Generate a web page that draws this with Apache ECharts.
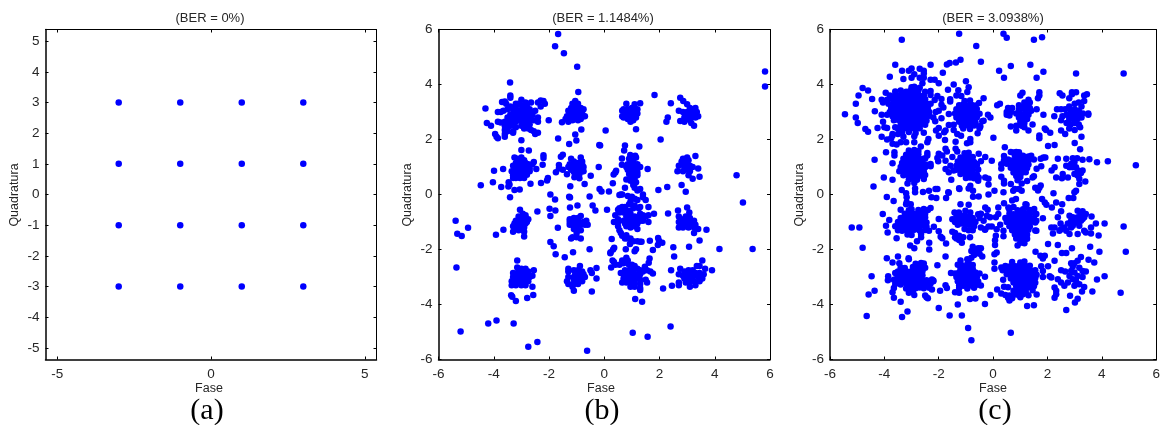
<!DOCTYPE html>
<html>
<head>
<meta charset="utf-8">
<style>html,body{margin:0;padding:0;background:#fff}#chart{width:1163px;height:425px}</style>
<script src="https://cdn.jsdelivr.net/npm/echarts@6/dist/echarts.min.js"></script>
</head>
<body>
<div id="chart"></div>
<script>
var titles = ['(BER = 0%)', '(BER = 1.1484%)', '(BER = 3.0938%)'];
var captions = ['(a)', '(b)', '(c)'];
var ticksAx = [-5, 0, 5];
var ticksAy = [-5, -4, -3, -2, -1, 0, 1, 2, 3, 4, 5];
var ticksB = [-6, -4, -2, 0, 2, 4, 6];

// panel a: ideal constellation
var dataA = [-3,3,-1,3,1,3,3,3,-3,1,-1,1,1,1,3,1,-3,-1,-1,-1,1,-1,3,-1,-3,-3,-1,-3,1,-3,3,-3];

// panel b, read by eye, flat x,y lists by region
var bTop = [-1.67,5.84,-1.78,5.39,-1.46,5.14,-.98,4.65,5.82,4.47,5.82,3.93,-3.41,4.07,-.94,3.73,1.82,3.62,2.75,3.52,2.41,3.32,2.86,3.4,
  -2.01,2.7,-1.53,2.63,-.83,2.36,-1.05,2.18,-1.01,1.96,-1.67,2.04,-1.27,1.84,-.18,1.8,-.15,1.78,.05,2.33,2.04,2];
var b1 = [-3.4,3.6,-3.4,3.52,-3.7,3.36,-3.6,3.38,-3.55,3.3,-3.2,3.3,-3,3.45,-2.85,3.35,-2.65,3.35,-2.4,3.35,-2.3,3.42,-2.2,3.4,-2.15,3.3,-2.3,3.2,-4.3,3.13,-3.85,3,-3.75,3,-3.65,3.05,-3.5,3.1,-3.4,3.2,-3.3,3.1,-3.2,3.2,-3.1,3.3,-3,3.25,-2.9,3.2,-2.8,3.2,-2.7,3.1,-2.6,3,-2.5,3.05,-3.4,2.9,-3.3,2.95,-3.2,3,-3.1,3.05,-3,3.05,-2.9,3,-2.8,3,-2.7,2.9,-2.6,2.9,-3.5,2.8,-3.35,2.75,-3.2,2.8,-3.1,2.85,-3,2.9,-2.9,2.85,-2.8,2.8,-2.7,2.75,-2.55,2.7,-2.4,2.8,-2.4,2.65,-3.85,2.65,-3.75,2.62,-3.6,2.65,-3.5,2.65,-3.3,2.6,-3.2,2.65,-3.05,2.7,-2.95,2.65,-2.85,2.6,-2.7,2.55,-4.25,2.6,-4.1,2.5,-3.6,2.5,-3.5,2.45,-3.4,2.5,-3.2,2.45,-3,2.5,-2.85,2.45,-2.75,2.4,-2.65,2.35,-2.9,2.4,-3.6,2.35,-3.6,2.2,-3.5,2.3,-3.3,2.3,-3.3,2.25,-3.95,2.2,-3.9,2.1,-3.85,2.05,-3.6,2.1,-2.5,2.2,-2.4,2.25,-2.55,2.3,-3,1.97,
  -1.05,3.4,-.95,3.3,-1.15,3.3,-1.2,3.15,-1,3.2,-.85,3.15,-.75,3.1,-1.3,3.05,-1.1,3.05,-1,3.05,-.9,3,-.8,2.95,-1.35,2.85,-1.25,2.9,-1.15,2.95,-1,2.9,-.9,2.85,-.75,2.85,-.7,2.85,-1.4,2.75,-1.2,2.8,-1.05,2.75,-.95,2.7,-1,2.8,-1.3,2.65,-1.15,2.7,-.85,2.75];
var b2 = [.8,3.3,1.1,3.28,1.3,3.32,.7,3.1,.85,3.1,1,3.15,1.2,3.1,1.15,3,.65,3.05,.75,3,.9,3,1.05,2.95,1.2,2.95,.65,2.85,.8,2.85,.95,2.85,1.1,2.85,.7,2.8,.85,2.75,1,2.75,1.05,2.7,1.15,2.8,.95,2.65,1.15,2.37,
  3,3.28,3.2,3.1,3.3,3.15,3.1,3.15,2.7,3.05,2.85,3,3,3,3.2,3,3.35,3,3.4,2.85,2.95,2.9,3.1,2.9,3.2,2.85,3.3,2.8,2.75,2.67,2.9,2.8,3,2.8,3.1,2.7,3.15,2.6,3.25,2.5,2.9,2.65,2.3,2.8,2.25,2.65];
var b3 = [-3,1.62,-2.73,1.6,-3.25,1.35,-2.2,1.43,-2.2,1.33,-2.55,1.18,-2.23,1.08,-2.6,1.1,-2.46,.93,-3.66,.93,-3.99,.86,-4.03,.45,-4.47,.34,-3.73,.27,-3.46,.45,-3.43,.36,-3.47,.29,-3.25,.16,-3.06,.18,-3.41,-.1,-2.67,.39,-2.29,.42,-2.07,.51,-2.04,.6,
  -3.15,1.3,-3,1.35,-2.9,1.25,-3.2,1.15,-3.1,1.2,-3,1.15,-2.85,1.15,-2.75,1.1,-3.3,1.05,-3.2,1,-3.05,1.05,-2.95,1,-2.8,1,-2.7,.95,-3.35,.85,-3.2,.85,-3.05,.9,-2.95,.85,-2.8,.85,-2.7,.85,-3.3,.7,-3.15,.7,-3,.75,-2.9,.7,-2.8,.72,-3.2,.6,-3.05,.6,-2.9,.6,-3.3,.6,
  -1.2,1.3,-1.1,1.2,-.85,1.35,-1.25,1.1,-1.1,1.1,-.95,1.15,-.8,1.2,-.8,1.1,-1.3,1,-1.15,1,-1,1,-.85,1,-.75,1,-1.2,.9,-1.05,.9,-.9,.9,-.8,.85,-.75,.85,-1.1,.82,-1,.8,-.9,.75,
  -1.5,1.45,-1.57,1.37,-1.64,1.07,-1.64,.95,-1.75,.81,-1.5,.9,-1.35,.74,-1.08,.63,-.9,.59,-1.23,.3,-.71,.38,-.49,.68,-.2,1];
var b4 = [.75,1.78,.72,1.6,1.27,1.75,.64,1.31,.94,1.44,1.12,1.41,.64,1.08,1.57,.93,.4,.8,.34,.73,.43,.86,.31,.41,.17,.11,-.17,.2,-.1,.11,
  .9,1.3,1.05,1.25,1.15,1.35,.85,1.1,1,1.15,1.1,1.1,1.2,1.1,.8,1,.95,1,1.05,1,1.2,.95,1.3,1,.85,.9,1,.88,1.1,.85,1.2,.8,.9,.75,1.05,.75,1.2,.7,1,.62,1.1,.6,.8,.55,.95,.5,1.15,.45,1.05,.35,1.1,.25,1.2,.15,1.3,.2,.75,.25,.6,0,.55,-.02,.65,0,.85,-.05,1,-.08,1.1,-.15,1.2,-.2,1.4,0,1.4,-.1,1.5,-.2,1.6,-.45,1.3,-.45,1.25,-.5,1.1,-.4,.95,-.25,.9,-.35,1.05,-.5,.75,-.45,.65,-.45,.55,-.5,.5,-.55,.4,-.75,.55,-.65,.35,-1,
  2.85,1.3,3,1.35,3.3,1.4,2.8,1.2,2.95,1.2,3.05,1.25,2.7,1.05,2.85,1.1,3,1.1,3.1,1.05,3.2,1,3.4,.95,2.9,1,3,.95,2.85,.85,2.65,.85,3,.9,3.1,.85,3.05,.7,3.2,.57,3.45,.65,2.8,.35,2.95,.1,2.28,.27,1.96,.16,4.79,.7,5.02,-.29];
var b5 = [-3.05,-.55,-2.95,-.7,-2.85,-.75,-3.1,-.8,-3,-.85,-2.85,-.85,-2.75,-.9,-3.2,-.95,-3.05,-.95,-2.95,-.95,-2.8,-1,-3.25,-1.05,-3.1,-1.1,-2.95,-1.1,-2.85,-1.05,-3.3,-1.15,-3.2,-1.2,-3.05,-1.2,-2.9,-1.2,-3.3,-1.35,-3.1,-1.3,-2.9,-1.35,-2.9,-1.53,-5.38,-.95,-5.32,-1.43,-5.16,-1.51,-4.93,-1.21,-3.92,-1.46,-3.65,-1.28,-2.42,-.62,
  -1.25,-.9,-1.1,-.85,-.95,-.85,-.85,-.78,-.65,-.95,-1.25,-1,-1.1,-1,-1,-1,-.9,-1,-.75,-1,-.6,-1.1,-1.25,-1.1,-1.15,-1.1,-1,-1.15,-.85,-1.1,-.7,-1.1,-1.1,-1.25,-.95,-1.3,-.85,-1.3,-1,-1.4,-1.15,-1.55,-1,-1.55,-1.2,-1.6,-.85,-1.6,
  -.97,-.4,-1.24,-.47,-1.27,-.08,-1.24,-.11,-1.95,0,-1.78,-.18,-1.98,-.52,-1.77,-.58,-1.95,-.78,-1.68,-1.21,-1.95,-1.73,-1.83,-1.88,-1.76,-2.17,-1.43,-2.28,-1.13,-2.1,-.53,-1.99,-.53,-.07,-.42,-.4,-.32,-.58,.1,-.55];
var b6 = [.95,-.7,1.1,-.8,.8,-.8,.95,-.85,1.1,-.85,1.25,-.85,.7,-.95,.85,-.95,1,-.95,1.15,-.95,1.3,-.95,.75,-1.05,.9,-1.05,1.05,-1.1,1.2,-1.05,1.4,-.95,.8,-1.15,.95,-1.2,1.1,-1.15,1.2,-1.25,.9,-.6,.85,-.6,.7,-.65,1.3,-.7,1.4,-.75,1.5,-.8,1.6,-.75,1.8,-.7,1.6,-1,
  .5,-.9,.5,-1,.5,-1.15,.55,-1.3,.6,-1.4,.65,-1.5,.75,-1.6,.85,-1.6,.95,-1.6,1.05,-1.7,1.2,-1.7,1.3,-1.72,1.35,-1.72,1.65,-1.68,2.31,-.69,1.95,-1.58,1.94,-1.84,2.1,-1.75,1.98,-1.68,2.5,-1.92,1.76,-2.02,.27,-1.62,.36,-1.94,.32,-2,.23,-2.1,.22,-2.14,.78,-1.99,1.1,-2.06,1.15,-1.99,.93,-1.8,.8,-1.48,
  3,-.47,3.08,-.65,2.67,-.58,2.7,-.8,2.95,-.8,3.1,-.85,2.8,-.9,2.95,-.95,3.1,-.95,3.25,-.95,2.7,-1,2.85,-1.05,3,-1.05,3.15,-1.05,3.3,-1.1,2.7,-1.2,2.85,-1.2,3.05,-1.2,3.25,-1.2,3.4,-1.25,3.7,-1.28,3.25,-1.4,3.45,-1.67,3.07,-1.9];
var b7 = [-3.15,-2.4,-3.15,-2.65,-3,-2.7,-2.85,-2.7,-3.3,-2.85,-3.15,-2.85,-3,-2.85,-2.85,-2.85,-2.75,-2.8,-2.55,-2.75,-3.3,-3,-3.15,-3,-3,-3,-2.85,-3,-2.7,-3,-2.6,-2.95,-3.35,-3.15,-3.2,-3.15,-3.05,-3.15,-2.9,-3.15,-2.75,-3.15,-3.35,-3.3,-3.2,-3.3,-3,-3.3,-2.85,-3.3,-2.6,-3.35,-3.37,-3.66,-3.33,-3.72,-3.2,-3.87,-2.79,-3.76,-2.57,-3.65,-5.35,-2.65,-5.2,-4.98,-4.2,-4.69,-3.9,-4.58,-3.28,-4.69,-2.75,-5.54,-2.42,-5.36,-.62,-5.68,
  -.88,-2.6,-1.3,-2.7,-1.3,-2.8,-1.1,-2.75,-.95,-2.75,-.8,-2.8,-1.05,-2.9,-.9,-2.9,-.75,-2.9,-1.3,-3,-1.1,-3,-.95,-3,-.8,-3,-.7,-3,-1.35,-3.15,-1.1,-3.1,-.95,-3.1,-.8,-3.15,-1.3,-3.25,-1.1,-3.25,-.95,-3.25,-1.15,-3.35,-1.1,-3.5,-.5,-2.75,-.45,-2.85,-.28,-2.67,-.28,-3.05,-.45,-3.53];
var b8 = [.8,-2.3,.65,-2.4,.85,-2.4,.35,-2.45,.3,-2.4,.25,-2.65,.4,-2.55,.55,-2.55,.7,-2.5,.9,-2.55,1,-2.55,1.1,-2.6,.6,-2.85,.75,-2.75,.9,-2.75,1.05,-2.75,1.2,-2.7,1.3,-2.75,1.4,-2.8,1.55,-2.75,1.64,-2.33,1.61,-2.48,1.47,-2.63,1.67,-2.8,1.76,-2.87,.7,-2.9,.85,-2.9,1,-2.9,1.15,-2.9,1.3,-2.9,.7,-3.05,.85,-3.05,1,-3.05,1.15,-3.05,1.3,-3.1,.8,-3.2,.95,-3.2,1.1,-3.2,1.3,-3.25,.65,-3.2,.95,-3.35,1.1,-3.35,1.3,-3.4,1.3,-3.47,1.5,-3.1,1.55,-3.2,1.12,-3.8,1.37,-3.9,1.03,-5.03,1.57,-5.17,2.4,-4.8,2.13,-3.42,2.45,-3.32,2.42,-2.75,
  2.75,-2.7,2.9,-2.8,3.05,-2.75,3.2,-2.75,3.35,-2.6,3.45,-2.6,3.55,-2.4,3.65,-2.7,3.9,-2.75,2.7,-2.9,2.85,-2.95,3,-2.9,3.15,-2.9,3.3,-2.85,3.45,-2.85,3.6,-2.9,2.9,-3.05,3.05,-3.05,3.2,-3,3.4,-3,3.55,-3.05,2.7,-3.2,2.7,-3.3,2.95,-3.2,3.1,-3.15,3.25,-3.15,3.1,-3.35,3.3,-3.3,3.45,-3.15,4.17,-1.98,5.37,-1.98,2.53,-2.25];

// panel c, same idea
var cTop = [-3.36,5.63,-1.25,5.85,.38,5.85,.5,5.7,1.5,5.63,1.8,5.72,-.62,5.4,-.45,4.83,-1.37,4.8,-1.2,4.9,-1.7,4.73,-1.6,4.78,-2.3,4.72,-3.6,4.72,-3.35,4.5,-3.1,4.5,-3,4.58,-2.7,4.57,-2.55,4.5,-2.55,4.4,-2.9,4.37,-1.85,4.43,-3.8,4.28,-3.3,4.2,-3,4.25,-2.7,4.25,-2.55,4.25,-2.3,4.17,-2.15,4.17,-2,4.05,-2.6,4.05,-1.45,4,-1,4.12,-.9,3.9,-.95,3.73,-1.28,3.79,.22,4.5,.4,4.25,.65,4.67,1.37,4.72,1.6,4.25,1.85,4.46,3.05,4.4,4.8,4.4,
  -4.8,3.87,-4.6,3.78,-4.95,3.6,-5.05,3.3,-5.45,2.92,-5.05,2.8,-4.98,2.6,-4.7,2.38,-4.6,2.28,-4.45,3.47,-4.35,3.03,-4.25,2.42,-4.1,3.45,-4.05,3.35,-3.95,3.7,-3.9,2.9,-4.1,2.9,-4.05,2.65,-4,2.45,-3.9,2.42,-3.6,2.45,-3.7,2.2,-3.7,2.15,-4.1,2.1,-3.9,2,-3.75,2.05,-3.5,2.2];
var c1 = [-3,3.9,-2.9,3.92,-2.7,3.88,-3.6,3.75,-3.4,3.78,-3.2,3.74,-3.05,3.76,-2.9,3.73,-2.75,3.77,-2.5,3.74,-2.3,3.76,-3.8,3.6,-3.6,3.62,-3.45,3.58,-3.3,3.6,-3.15,3.63,-3,3.59,-2.85,3.61,-2.7,3.58,-2.55,3.6,-2.3,3.62,-2.05,3.58,-3.9,3.45,-3.7,3.47,-3.55,3.44,-3.4,3.46,-3.25,3.43,-3.1,3.46,-2.95,3.44,-2.8,3.47,-2.65,3.43,-2.5,3.46,-2.15,3.44,-3.85,3.3,-3.65,3.32,-3.5,3.29,-3.35,3.31,-3.2,3.28,-3.05,3.31,-2.9,3.29,-2.75,3.32,-2.6,3.28,-2.45,3.31,-2.3,3.3,-3.75,3.15,-3.6,3.17,-3.45,3.14,-3.3,3.16,-3.15,3.13,-3,3.16,-2.85,3.14,-2.7,3.17,-2.55,3.13,-2.4,3.16,-3.8,3,-3.65,3.02,-3.5,2.99,-3.35,3.01,-3.2,2.98,-3.05,3.01,-2.9,2.99,-2.75,3.02,-2.6,2.98,-2.45,3.01,-2.35,3,-3.7,2.85,-3.55,2.87,-3.4,2.84,-3.25,2.86,-3.1,2.83,-2.95,2.86,-2.8,2.84,-2.65,2.87,-2.5,2.83,-2.35,2.86,-3.65,2.7,-3.5,2.72,-3.35,2.69,-3.2,2.71,-3.05,2.68,-2.9,2.71,-2.75,2.69,-2.6,2.72,-2.45,2.68,-3.4,2.55,-3.25,2.57,-3.1,2.54,-2.95,2.56,-2.8,2.53,-2.65,2.56,-2.5,2.54,-3.5,2.4,-3.3,2.42,-3.15,2.39,-3,2.41,-2.85,2.38,-2.7,2.41,-3.35,2.25,-3.1,2.27,-2.85,2.24,-2.55,2.25,-3.3,2.1,-2.9,2.12,
  -1.05,3.4,-.85,3.42,-1.25,3.25,-1.1,3.27,-.95,3.24,-.8,3.26,-.65,3.24,-1.35,3.1,-1.2,3.12,-1.05,3.09,-.9,3.11,-.75,3.08,-.6,3.11,-1.4,2.95,-1.25,2.97,-1.1,2.94,-.95,2.96,-.8,2.93,-.65,2.96,-.5,2.94,-1.35,2.8,-1.2,2.82,-1.05,2.79,-.9,2.81,-.75,2.78,-.6,2.81,-1.25,2.65,-1.1,2.67,-.95,2.64,-.8,2.66,-.65,2.63,-.4,2.66,-1.15,2.5,-1,2.52,-.85,2.49,-.7,2.51,-.5,2.48,-1.1,2.4,-.85,2.38,-.5,2.41,
  -1.66,3.81,-1.9,3.47,-1.58,3.46,-1.58,3.38,-1.35,3.6,-1.17,3.58,-.35,3.5,-.52,3.33,-1.9,3.26,-2,3.05,-1.83,3.16,-2.11,3,-1.63,2.93,-2.2,2.8,-1.9,2.77,-2.13,2.66,-1.45,2.54,-1.63,2.53,-1.75,2.33,-2,2.42,-2.1,2.33,-1.8,2.26,-2,2.14,-1.77,1.98,-1.45,2.35,-1.32,2.2,-1.18,2.14,-1.38,1.92,-.96,1.86,-.84,1.9,-.57,2.23,-.47,2.47,-.84,2.02,-.19,2.9,-.1,2.8,-.35,2.68];
var c2 = [-2.38,2.02,-2.42,1.9,-2.66,1.75,-2.9,1.9,-3.2,1.9,-3.4,1.9,-3.7,1.85,-3.55,1.82,-3.94,1.54,-3.63,1.54,-3.63,1.42,-3.7,1.14,-4.36,1.26,-4.02,.62,-3.7,.54,-4.4,.29,-3.36,.16,-3.2,.05,-3.18,-.1,-3.91,-.09,-3.66,-.24,-3.18,-.28,-3.03,-.35,-2.87,.22,-2.87,.08,-2.58,.09,-2.36,.14,-2.27,-.1,-2.12,.2,-2.05,.2,-2.09,-.13,-1.65,.08,-1.63,.06,-1.73,-.13,-1.24,.2,-.9,.22,-.74,.14,-.53,-.07,-.74,-.08,-.17,0,.05,.14,
  -2.42,1.51,-2.42,1.42,-2.56,1.3,-2.3,1.11,-2.3,1.03,-2.44,1.08,-2.05,1.33,-2,1.48,-1.87,1.42,-1.75,1.66,-1.7,1.56,-2.02,1.21,-1.75,1.23,-1.38,1.66,-1.32,1.56,-1.5,1.36,-1.57,1.05,-1.75,.93,-1.63,.81,-1.45,.87,-1.54,.54,
  -3.1,1.6,-2.9,1.62,-2.75,1.58,-3.2,1.45,-3.05,1.47,-2.9,1.44,-2.75,1.46,-3.3,1.3,-3.15,1.32,-3,1.29,-2.85,1.31,-2.7,1.28,-2.5,1.31,-3.35,1.15,-3.2,1.17,-3.05,1.14,-2.9,1.16,-2.75,1.13,-2.6,1.16,-3.4,1,-3.25,1.02,-3.1,.99,-2.95,1.01,-2.8,.98,-2.65,1.01,-2.5,.99,-3.45,.85,-3.3,.87,-3.15,.84,-3,.86,-2.85,.83,-2.7,.86,-2.55,.84,-3.3,.7,-3.15,.72,-3,.69,-2.85,.71,-2.7,.68,-2.5,.71,-3.1,.55,-2.95,.57,-2.8,.54,-2.55,.56,-3.15,.4,-2.9,.42,
  -1.05,1.5,-.9,1.52,-1.2,1.35,-1.05,1.37,-.9,1.34,-.75,1.36,-1.3,1.2,-1.15,1.22,-1,1.19,-.85,1.21,-.7,1.18,-.45,1.21,-1.35,1.05,-1.2,1.07,-1.05,1.04,-.9,1.06,-.75,1.03,-.6,1.06,-1.35,.9,-1.2,.92,-1.05,.89,-.9,.91,-.75,.88,-.55,.91,-1.2,.75,-1.05,.77,-.9,.74,-.75,.76,-.6,.73,-1,.6,-.85,.62,-.7,.59,
  -.53,1.48,-.29,1.36,-.6,1.11,-.05,1.23,.01,2.06,-.53,.62,-.29,.62,-.17,.57,-.55,.5,-.17,.36,-.84,.32,-1.25,.23];
var c3 = [.65,1.55,.75,1.53,.85,1.55,.95,1.54,.4,1.4,.8,1.42,.95,1.39,1.1,1.41,1.3,1.38,1.4,1.41,.4,1.25,.55,1.27,.7,1.24,.85,1.26,1,1.23,1.15,1.26,1.3,1.24,1.5,1.27,1.85,1.35,.3,1.1,.5,1.12,.7,1.09,.85,1.11,1,1.08,1.15,1.11,1.3,1.09,.3,.95,.65,.97,.8,.94,.95,.96,1.1,.93,1.25,.96,1.6,.94,.75,.8,.9,.82,1.05,.79,1.2,.81,.3,.65,.85,.67,1,.64,1.5,.66,1.45,.62,.4,.5,.9,.52,1.25,.49,.43,1.72,.4,.4,.65,.38,1.05,.4,.8,.2,.95,.2,1.55,.25,1.7,.25,1.75,.33,.38,.08,1.05,.14,1.65,.15,1.77,1.03,1.92,1.35,1.75,1.3,2.02,1.76,2.26,1.8,
  2.38,1.3,2.69,1.3,2.93,1.32,3.09,1.32,3.29,1.26,3.54,1.28,3.82,1.17,4.22,1.21,5.25,1.06,2.26,.99,2.15,.87,2.69,1.05,2.87,1.11,2.99,1.17,2.81,.99,2.93,.99,3.05,.99,3.11,.87,3.29,.87,3.23,.78,2.99,.75,3.11,.69,3.17,.57,2.32,.62,2.56,.75,2.53,.59,2.75,.62,3.17,.38,3.39,.47,3.05,.14,2.99,.08,2.78,-.13,2.95,-.13,2.22,.05,1.8,-.16,1.9,-.29,1.96,-.37,2.32,-.29,2.54,-.35,2.16,-.47,2.5,-.61,2.38,-.83,1.83,-.86,
  3.11,-.59,3.29,-.61,3.41,-.71,3.23,-.71,3.35,-.83,3.11,-.83,2.93,-.83,2.87,-.95,2.81,-.77,3.23,-.95,3.05,-1.01,2.93,-1.14,2.87,-1.2,3.17,-1.14,3.29,-.89,3.62,-.8,3.78,-1.05,4.1,-1.05,4.8,-1.16,3.6,-1.2,3.35,-1.32,3.41,-1.38,3.6,-1.42,3.88,-1.49,3.11,-1.44,2.81,-1.44,2.69,-1.32,2.44,-1.32,2.5,-1.26,2.48,-1.05,2.75,-1.05,2.62,-1.2,2.26,-1.2,2.14,-1.2,2.2,-1.42,2.02,-1.8,2.38,-1.84,2.53,-2.13,2.69,-2.13,2.9,-1.95,3.57,-1.9,3.91,-2.08,4.88,-2.08,3.72,-2.47,3.51,-2.37,3.23,-2.27,1.56,-2.08,1.74,-2.23,1.9,-2.23,1.83,-2.33,2.26,-2.41,1.77,-2.61,2.02,-2.61,1.83,-2.78,1.83,-3,2.08,-2.97,2.14,-3.02,
  2.87,-2.5,2.99,-2.5,3.11,-2.41,2.93,-2.62,3.17,-2.66,3.29,-2.78,3.41,-2.8,2.87,-2.78,2.99,-2.84,2.5,-2.75,2.65,-2.8,3.11,-2.96,3.29,-3,2.81,-2.96,2.93,-3.08,2.38,-3.08,2.5,-3.2,2.62,-3.32,2.75,-3.2,3.05,-3.14,3.17,-3.26,2.99,-3.32,3.35,-3.36,3.27,-3.53,3.65,-3.53,3.82,-3.09,4.1,-2.97,4.69,-3.57,2.26,-3.38,2.32,-3.5,2.26,-3.75,2.32,-3.63,2.83,-3.68,3.11,-3.79,3.01,-3.93,2.69,-4.2];
var c4 = [.75,-.45,1.2,-.47,.6,-.55,.9,-.57,1.1,-.54,1.35,-.56,.6,-.7,.75,-.72,.9,-.69,1.05,-.71,1.2,-.68,1.35,-.71,1.55,-.69,.45,-.85,.6,-.87,.75,-.84,.9,-.86,1.05,-.83,1.2,-.86,1.35,-.84,1.5,-.87,.5,-1,.65,-1.02,.8,-.99,.95,-1.01,1.1,-.98,1.25,-1.01,1.4,-.99,1.55,-1.02,.6,-1.15,.75,-1.17,.9,-1.14,1.05,-1.16,1.2,-1.13,1.35,-1.16,.7,-1.3,.85,-1.32,1,-1.29,1.15,-1.31,1.3,-1.28,1.55,-1.31,.8,-1.45,.95,-1.47,1.1,-1.44,1.25,-1.46,.85,-1.6,1,-1.62,1.15,-1.59,1.25,-1.61,1,-1.75,1.15,-1.77,.9,-1.85,
  .19,-.47,.4,-.32,.56,-.47,.19,-.71,.7,-.22,.84,-.16,1.19,-.35,1.51,-.53,1.59,-.71,1.59,-.95,1.59,-1.32,1.23,-.37,.74,.14,.1,-.83,-.11,-.83,-.23,-.77,-.47,-.71,-.29,-.47,-.2,-.55,-.35,-.95,-.05,-1.16,-.17,-1.16,-.29,-1.26,.26,-1.1,.13,-1.26,.38,-1.32,.1,-1.5,.07,-1.66,.07,-1.84,.13,-2.11,.05,-2.17,.05,-2.47,.38,-1.52,
  -3.2,-.35,-3.4,-.55,-3.1,-.57,-3,-.54,-2.75,-.56,-2.55,-.53,-2.4,-.56,-3.25,-.7,-3.1,-.72,-2.95,-.69,-2.8,-.71,-2.65,-.68,-2.5,-.71,-3.4,-.85,-3.25,-.87,-3.1,-.84,-2.95,-.86,-2.8,-.83,-2.65,-.86,-2.5,-.84,-3.5,-1,-3.35,-1.02,-3.2,-.99,-3.05,-1.01,-2.9,-.98,-2.75,-1.01,-2.6,-.99,-2.45,-1.02,-3.6,-1.15,-3.4,-1.17,-3.25,-1.14,-3.1,-1.16,-2.95,-1.13,-2.8,-1.16,-2.65,-1.14,-2.45,-1.17,-3.5,-1.3,-3.35,-1.32,-3.2,-1.29,-3.05,-1.31,-2.9,-1.28,-2.7,-1.31,-2.5,-1.29,-3.15,-1.45,-3,-1.47,-2.65,-1.44,-2.65,-1.55,-2.8,-1.7,-3.05,-1.85,-2.9,-1.95,-2.35,-2,-2.35,-1.75,
  -4.06,-.71,-3.82,-.93,-3.94,-1.14,-3.88,-1.38,-3.55,-1.59,-2.3,-.49,-2,-.89,-2.18,-1.17,-2,-1.34,-1.93,-1.54,-1.87,-1.59,-2.36,-1.32,-1.73,-1.78,-5.2,-1.2,-4.92,-1.2,-4.8,-1.94,-3.91,-2.32,
  -1.2,-.35,-.9,-.37,-1.42,-.65,-1.26,-.65,-1.02,-.59,-.84,-.65,-1.5,-.9,-1.35,-.8,-1.2,-.8,-1.05,-.75,-.9,-.8,-.75,-.85,-1.4,-1,-1.25,-.95,-1.1,-.9,-.95,-.95,-.8,-1,-.65,-1,-1.3,-1.1,-1.15,-1.05,-1,-1.1,-.85,-1.1,-.7,-1.15,-1.05,-1.25,-.9,-1.3,-.75,-1.3,-.55,-.72,-.45,-.7,-.5,-.85,-.45,-1.2,-.3,-1.28,-1.5,-1.35,-1.4,-1.4,-1.4,-1.55,-1.35,-1.6,-1.25,-1.5,-1.25,-1.65,-1.1,-1.55,-1.15,-1.75,-.85,-1.55,-.7,-2,-.75,-1.9,-.8,-2.05,-.55,-1.95,-.45,-1.95,-.6,-2.1,-.5,-2.15,-.7,-2.2,-.8,-2.3,-.9,-2.4,-.95,-2.35,-.4,-2.25];
var c5 = [-3.1,-2.35,-3.45,-2.5,-2.85,-2.52,-2.65,-2.49,-2.55,-2.51,-3.4,-2.65,-3.25,-2.67,-2.95,-2.64,-2.8,-2.66,-2.65,-2.63,-2.5,-2.66,-3.5,-2.8,-3.35,-2.82,-3.2,-2.79,-3.05,-2.81,-2.9,-2.78,-2.75,-2.81,-2.6,-2.79,-3.5,-2.95,-3.35,-2.97,-3.2,-2.94,-3.05,-2.96,-2.9,-2.93,-2.75,-2.96,-2.6,-2.94,-3.65,-3.1,-3.4,-3.12,-3.25,-3.09,-3.1,-3.11,-2.95,-3.08,-2.8,-3.11,-2.65,-3.09,-2.45,-3.12,-2.25,-3.09,-2.2,-3.13,-3.6,-3.25,-3.4,-3.27,-3.2,-3.24,-3.05,-3.26,-2.9,-3.23,-2.75,-3.26,-2.6,-3.24,-2.45,-3.27,-2.3,-3.24,-3.65,-3.4,-3.2,-3.42,-3.05,-3.39,-2.85,-3.41,-2.7,-3.38,-2.55,-3.41,-2.35,-3.39,-3.7,-3.55,-3.1,-3.57,-2.95,-3.54,-2.9,-3.65,-2.5,-3.67,-3.65,-3.75,-2.4,-3.77,-2.45,-3.74,-3.4,-3.9,-3.15,-4.25,-3.35,-4.45,
  -4.47,-2.97,-4.58,-3.64,-4.36,-3.5,-4.65,-4.42,-3.7,-2.47,-3.5,-2.25,-3.11,-2.32,-3.86,-2.97,-3.87,-3.12,-3.57,-3.08,-3.6,-2.85,-2.2,-3.15,-2.25,-3.45,-2.05,-2.57,-1.75,-3.3,-1.7,-3.4,-1.95,-3.5,-2,-4.13,-1.6,-4.4,-1.15,-4.4,-.92,-4.85,-.8,-5.3,.65,-5.03,-1.75,-2.25,
  -1.2,-2.4,-1.3,-2.55,-1.15,-2.57,-.95,-2.54,-.75,-2.56,-1.2,-2.7,-1.05,-2.72,-.9,-2.69,-.75,-2.71,-1.55,-2.85,-1.4,-2.87,-1.25,-2.84,-1.1,-2.86,-.95,-2.83,-.8,-2.86,-.65,-2.84,-.5,-2.87,-1.35,-3,-1.2,-3.02,-1.05,-2.99,-.9,-3.01,-.75,-2.98,-.6,-3.01,-.3,-2.99,-1.3,-3.15,-1.15,-3.17,-1,-3.14,-.85,-3.16,-.7,-3.13,-.55,-3.16,-1.25,-3.3,-1.1,-3.32,-.95,-3.29,-.8,-3.31,-.6,-3.28,-.45,-3.31,-1.25,-3.4,-.95,-3.42,-.7,-3.39,-1.4,-3.55,-1.25,-3.57,-.85,-3.8,-.65,-3.78,-1.3,-4,-.3,-3.98,-.1,-3.65,
  .7,-2.45,1,-2.47,1.15,-2.44,.45,-2.6,.6,-2.62,.75,-2.59,.9,-2.61,1.05,-2.58,1.2,-2.61,1.35,-2.59,.35,-2.75,.5,-2.77,.65,-2.74,.8,-2.76,.95,-2.73,1.1,-2.76,1.25,-2.74,1.4,-2.77,1.55,-2.75,.5,-2.9,.65,-2.92,.8,-2.89,.95,-2.91,1.1,-2.88,1.25,-2.91,1.4,-2.89,1.6,-2.92,.65,-3.05,.8,-3.07,.95,-3.04,1.1,-3.06,1.25,-3.03,1.4,-3.06,1.55,-3.04,.75,-3.2,.9,-3.22,1.05,-3.19,1.2,-3.21,1.35,-3.18,1.55,-3.21,.4,-3.35,.55,-3.37,.85,-3.34,1,-3.36,1.15,-3.33,1.3,-3.36,1.5,-3.34,.75,-3.5,.9,-3.52,1.05,-3.49,1.2,-3.51,1.45,-3.48,.45,-3.65,.6,-3.67,.8,-3.64,.95,-3.66,1.1,-3.63,1.3,-3.66,1.6,-3.64,.55,-3.75,.7,-3.77,1,-3.74,.6,-3.85,1.25,-4.05,1.5,-4.03,.37,-3.1,.3,-2.65,.05,-2.7,.15,-3.45,.3,-3.6];
var c6 = [1.08,3.7,1,3.6,1.7,3.72,1.7,3.6,1.65,3.5,1.3,3.45,1.35,3.35,1.15,3.35,1.25,3.25,.95,3.25,.55,3.15,.7,3.15,1.1,3.15,1.35,3.15,1.6,3.1,.5,3,.65,3,.95,3.1,1.2,3.05,1.4,3.05,.5,2.9,.6,2.87,.85,2.95,1,2.95,1.15,2.9,1.3,2.9,1.85,2.9,.95,2.8,1.1,2.75,1.25,2.75,1,2.65,1.15,2.6,.65,2.47,.85,2.5,1.05,2.5,1.15,2.45,1.45,2.55,.85,2.33,1.3,2.33,1.7,2.15,1.7,2.05,1.9,2.4,1.95,2.35,2.1,2.25,.15,3.25,.25,3.3,
  2.45,3.68,2.55,3.6,2.9,3.72,3.05,3.72,2.9,3.65,3.45,3.65,3.35,3.6,2.8,3.5,3.35,3.4,3.15,3.35,3,3.3,2.35,3.1,2.5,3.1,2.65,3.1,2.8,3.2,3.25,3.2,2.85,3.05,3,3.1,3.15,3.05,3.5,2.9,3.5,2.95,2.25,2.85,2.55,2.85,2.7,2.9,2.85,2.9,3,2.9,3.15,2.9,3.3,2.95,2.5,2.7,2.8,2.75,2.95,2.75,3.1,2.75,3.25,2.8,2.7,2.6,2.85,2.55,3,2.6,3.15,2.55,2.5,2.33,2.65,2.2,2.8,2.4,3,2.35,3.2,2.45,3.25,2.1,3,1.87,3.2,1.65];

var pointsA = dataA;
var pointsB = [].concat(bTop, b1, b2, b3, b4, b5, b6, b7, b8);
var pointsC = [].concat(cTop, c1, c2, c3, c4, c5, c6);

function toPairs(flat) {
  var out = [];
  for (var i = 0; i < flat.length; i += 2) out.push([flat[i], flat[i + 1]]);
  return out;
}

var panels = [
  { left: 45.5, width: 331, min: -5.38, max: 5.38, xt: ticksAx, yt: ticksAy, pts: pointsA, size: 6.5, tx: 205, fx: 209, qx: 15, cx: 202 },
  { left: 438.5, width: 331.5, min: -6, max: 6, xt: ticksB, yt: ticksB, pts: pointsB, size: 6.5, tx: 598, fx: 601, qx: 408, cx: 597 },
  { left: 830, width: 329.5, min: -6, max: 6, xt: ticksB, yt: ticksB, pts: pointsC, size: 6.5, tx: 988, fx: 993, qx: 800, cx: 990 }
];

function makeAxis(type, p, idx, ticks, showLabel, pos) {
  var main = showLabel;
  return {
    type: 'value', gridIndex: idx, position: pos, min: p.min, max: p.max, scale: true,
    splitLine: { show: false },
    axisLine: { show: true, onZero: false, lineStyle: { color: '#000', width: main ? 1.5 : 1 } },
    axisTick: { show: true, inside: true, length: 3, customValues: ticks, lineStyle: { color: '#000', width: 1 } },
    axisLabel: { show: showLabel, customValues: ticks, margin: type === 'x' ? 8 : 6, fontSize: 13.5, fontFamily: 'Liberation Sans', color: '#262626', showMinLabel: true, showMaxLabel: true, hideOverlap: false }
  };
}

var option = { animation: false, backgroundColor: '#fff', grid: [], xAxis: [], yAxis: [], series: [], title: [], graphic: [] };

panels.forEach(function (p, i) {
  option.grid.push({ left: p.left, top: 29.5, width: p.width, height: 330, show: false });
  option.xAxis.push(makeAxis('x', p, i, p.xt, true, 'bottom'));
  option.xAxis.push(makeAxis('x', p, i, p.xt, false, 'top'));
  option.yAxis.push(makeAxis('y', p, i, p.yt, true, 'left'));
  option.yAxis.push(makeAxis('y', p, i, p.yt, false, 'right'));
  option.series.push({
    type: 'scatter', xAxisIndex: i * 2, yAxisIndex: i * 2, data: toPairs(p.pts),
    symbol: 'circle', symbolSize: p.size, itemStyle: { color: '#0000ff', opacity: 1 }, silent: true, large: false
  });
  option.title.push({ text: titles[i], left: p.tx, top: 7, textAlign: 'center', textStyle: { fontFamily: 'Liberation Sans', fontSize: 13, fontWeight: 'normal', color: '#262626' } });
  option.title.push({ text: captions[i], left: p.cx, top: 391, textAlign: 'center', textStyle: { fontFamily: 'Liberation Serif', fontSize: 30, fontWeight: 'normal', color: '#000' } });
  option.graphic.push({ type: 'text', x: p.fx, y: 389, silent: true, style: { text: 'Fase', align: 'center', verticalAlign: 'middle', font: '12.5px "Liberation Sans"', fill: '#262626' } });
  option.graphic.push({ type: 'text', x: p.qx, y: 195, rotation: Math.PI / 2, silent: true, style: { text: 'Quadratura', align: 'center', verticalAlign: 'middle', font: '12.5px "Liberation Sans"', fill: '#262626' } });
});

var chart = echarts.init(document.getElementById('chart'), null, { renderer: 'canvas' });
chart.setOption(option);
</script>
</body>
</html>
